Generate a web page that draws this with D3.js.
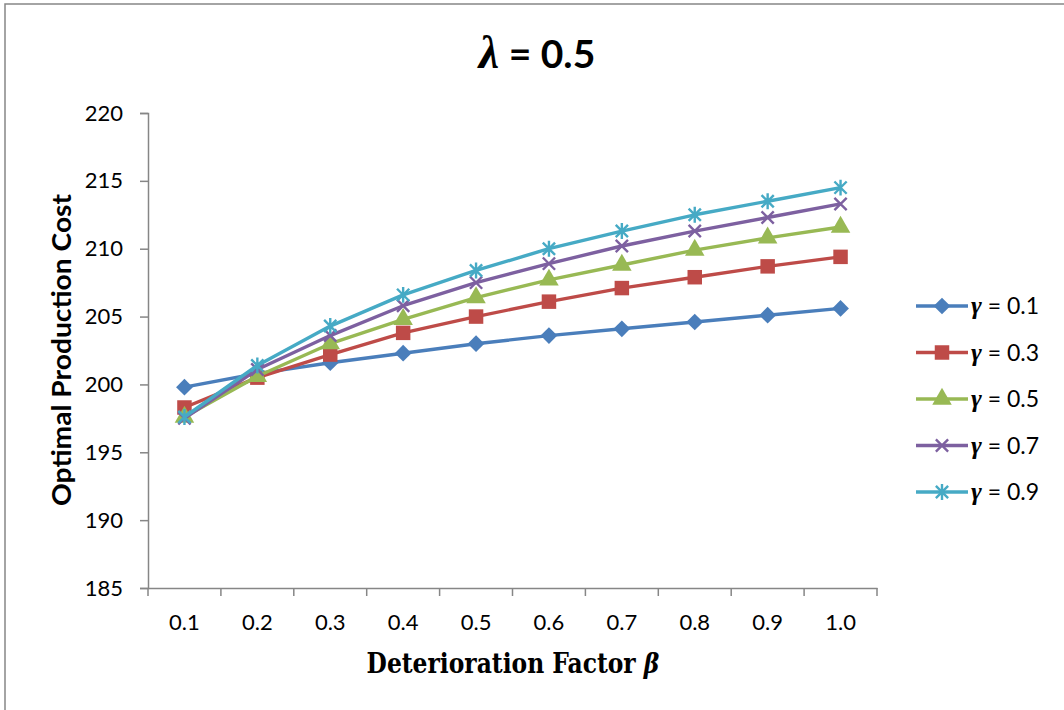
<!DOCTYPE html>
<html>
<head>
<meta charset="utf-8">
<script src="https://cdn.jsdelivr.net/npm/d3@7"></script>
<style>
  body { margin: 0; background: #fff; }
  svg { display: block; }
</style>
</head>
<body>
<script>
// data
let Betas = ["0.1", "0.2", "0.3", "0.4", "0.5", "0.6", "0.7", "0.8", "0.9", "1.0"];
let Gammas = ["0.1", "0.3", "0.5", "0.7", "0.9"];
let CostG01 = [199.8, 200.8, 201.6, 202.3, 203.0, 203.6, 204.1, 204.6, 205.1, 205.6];
let CostG03 = [198.3, 200.5, 202.2, 203.8, 205.0, 206.1, 207.1, 207.9, 208.7, 209.4];
let CostG05 = [197.6, 200.6, 203.0, 204.8, 206.4, 207.7, 208.8, 209.9, 210.8, 211.6];
let CostG07 = [197.5, 201.1, 203.6, 205.8, 207.5, 208.9, 210.2, 211.3, 212.3, 213.3];
let CostG09 = [197.6, 201.4, 204.3, 206.6, 208.4, 210.0, 211.3, 212.5, 213.5, 214.5];
let YTicks = [185, 190, 195, 200, 205, 210, 215, 220];

let SvgWidth = 1064;
let SvgHeight = 710;

let Svg = d3.select("body")
    .append("svg")
    .attr("width", SvgWidth)
    .attr("height", SvgHeight)

// chart frame (right and bottom edges run off the picture)
Svg.append("rect")
    .attr("x", 5).attr("y", 4)
    .attr("width", 1100).attr("height", 760)
    .attr("fill", "none")
    .attr("stroke", "#868686")
    .attr("stroke-width", 1.5)

let Plot = { Left: 148, Right: 877, Top: 113, Bottom: 588 }

let xScale = d3.scaleBand()
    .domain(Betas)
    .range([Plot.Left, Plot.Right])
    .padding(0)

let yScale = d3.scaleLinear()
    .domain([185, 220])
    .range([Plot.Bottom, Plot.Top])

let AxisColor = "#868686";
let LabelFont = "Lato, 'Open Sans', sans-serif";
let GreekFont = "'Liberation Serif', 'DejaVu Serif', serif";

// y axis
let LeftAxis = d3.axisLeft(yScale).tickValues(YTicks).tickSize(8).tickPadding(17);
let yAxisG = Svg.append("g").attr("transform", `translate(${Plot.Left},0)`).call(LeftAxis)
yAxisG.select(".domain").attr("stroke", AxisColor).attr("stroke-width", 1.5)
yAxisG.selectAll(".tick line").attr("stroke", AxisColor).attr("stroke-width", 1.5)
yAxisG.selectAll(".tick text")
    .attr("font-family", LabelFont).attr("font-size", 22).attr("fill", "#000")

// x axis: labels centred in bands, tick marks on band edges
let BottomAxis = d3.axisBottom(xScale).tickSize(0).tickPadding(26);
let xAxisG = Svg.append("g").attr("transform", `translate(0,${Plot.Bottom})`).call(BottomAxis)
xAxisG.select(".domain").attr("stroke", AxisColor).attr("stroke-width", 1.5)
xAxisG.selectAll(".tick text")
    .attr("font-family", LabelFont).attr("font-size", 22).attr("fill", "#000")

let EdgeTicks = Betas.map(b => xScale(b)).concat([xScale(Betas[Betas.length - 1]) + xScale.bandwidth()]);
xAxisG.selectAll(".edge")
    .data(EdgeTicks)
    .enter()
    .append("line")
    .attr("x1", d => d).attr("x2", d => d)
    .attr("y1", 0).attr("y2", 8)
    .attr("stroke", AxisColor).attr("stroke-width", 1.5)

// marker shapes
let DiamondSym = { draw(c, s) { let r = Math.sqrt(s) / 2; c.moveTo(0, -r); c.lineTo(r, 0); c.lineTo(0, r); c.lineTo(-r, 0); c.closePath(); } };
let TimesSym = { draw(c, s) { let r = Math.sqrt(s) / 2; c.moveTo(-r, -r); c.lineTo(r, r); c.moveTo(r, -r); c.lineTo(-r, r); } };
let StarSym = { draw(c, s) { let r = Math.sqrt(s) / 2; c.moveTo(-r, -r); c.lineTo(r, r); c.moveTo(r, -r); c.lineTo(-r, r); c.moveTo(0, -r * 1.3); c.lineTo(0, r * 1.3); } };

let Series = [
    { name: Gammas[0], values: CostG01, color: "#4A7EBB", sym: DiamondSym, size: 280, filled: true },
    { name: Gammas[1], values: CostG03, color: "#BE4B48", sym: d3.symbolSquare, size: 210, filled: true },
    { name: Gammas[2], values: CostG05, color: "#98B954", sym: d3.symbolTriangle, size: 165, filled: true },
    { name: Gammas[3], values: CostG07, color: "#7D60A0", sym: TimesSym, size: 150, filled: false },
    { name: Gammas[4], values: CostG09, color: "#46AAC5", sym: StarSym, size: 150, filled: false }
]

let Line = d3.line()
    .x((d, i) => xScale(Betas[i]) + xScale.bandwidth() / 2)
    .y(d => yScale(d))

function drawMarker(sel, s) {
    sel.attr("d", d3.symbol().type(s.sym).size(s.size)())
        .attr("fill", s.filled ? s.color : "none")
        .attr("stroke", s.color)
        .attr("stroke-width", s.filled ? 0 : 2.4)
}

Series.forEach(function (s) {
    let g = Svg.append("g")
    g.append("path")
        .datum(s.values)
        .attr("d", Line)
        .attr("fill", "none")
        .attr("stroke", s.color)
        .attr("stroke-width", 3.4)
        .attr("stroke-linejoin", "round")
    g.selectAll(".pt")
        .data(s.values)
        .enter()
        .append("path")
        .attr("transform", (d, i) => `translate(${xScale(Betas[i]) + xScale.bandwidth() / 2},${yScale(d)})`)
        .call(drawMarker, s)
})

// legend
let Legend = Svg.append("g").attr("transform", "translate(916,306)")
Series.forEach(function (s, i) {
    let row = Legend.append("g").attr("transform", `translate(0,${i * 46.5})`)
    row.append("line")
        .attr("x1", 0).attr("x2", 52)
        .attr("stroke", s.color).attr("stroke-width", 3.4)
    row.append("path")
        .attr("transform", "translate(26,0)")
        .call(drawMarker, s)
    let t = row.append("text")
        .attr("x", 55).attr("y", 8)
        .attr("font-family", LabelFont).attr("font-size", 23).attr("fill", "#000")
    t.append("tspan").text("γ").attr("font-family", GreekFont)
        .attr("font-weight", "bold").attr("font-style", "italic").attr("font-size", 26)
    t.append("tspan").text(" = " + s.name)
})

// title
let Title = Svg.append("text")
    .attr("x", 537).attr("y", 68)
    .attr("text-anchor", "middle")
    .attr("font-family", LabelFont)
    .attr("font-weight", "bold")
    .attr("font-size", 39)
Title.append("tspan").text("λ").attr("font-family", GreekFont).attr("font-style", "italic").attr("font-size", 46)
Title.append("tspan").text(" = 0.5")

// y axis title
Svg.append("text")
    .attr("transform", "translate(71,350) rotate(-90)")
    .attr("text-anchor", "middle")
    .attr("font-family", LabelFont)
    .attr("font-weight", "bold")
    .attr("font-size", 26)
    .attr("textLength", 312)
    .attr("lengthAdjust", "spacingAndGlyphs")
    .text("Optimal Production Cost")

// x axis title, squeezed a little to look condensed
let XTitle = Svg.append("text")
    .attr("transform", "translate(513,673) scale(0.93,1)")
    .attr("text-anchor", "middle")
    .attr("font-family", "'DejaVu Serif Condensed', 'DejaVu Serif', serif")
    .attr("font-weight", "bold")
    .attr("font-size", 28)
XTitle.append("tspan").text("Deterioration Factor ")
XTitle.append("tspan").text("β").attr("font-style", "italic")
</script>
</body>
</html>
